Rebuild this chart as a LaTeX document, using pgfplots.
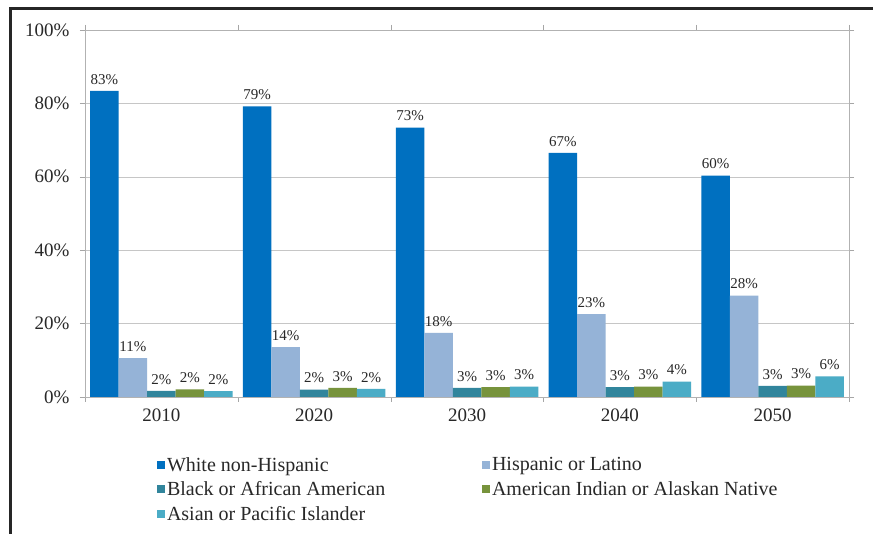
\documentclass[border=0pt]{standalone}
\usepackage{pgfplots}
\pgfplotsset{compat=1.18}
\usepackage{fontspec}
\setmainfont{Liberation Serif}
\definecolor{cWhite}{RGB}{0,112,192}
\definecolor{cHisp}{RGB}{149,179,215}
\definecolor{cBlack}{RGB}{49,133,156}
\definecolor{cAmInd}{RGB}{119,147,60}
\definecolor{cAsian}{RGB}{75,172,198}
\definecolor{txt}{RGB}{40,40,40}
\begin{document}
\begin{tikzpicture}
\useasboundingbox (0,0) rectangle (873pt,534pt);
\fill[white] (0,0) rectangle (873pt,534pt);
\draw[line width=3pt, black!85] (10pt,0) -- (10pt,525pt) -- (873pt,525pt);
\begin{axis}[
  at={(85pt,137pt)}, anchor=south west,
  scale only axis, width=764pt, height=367pt,
  ybar=0pt, bar width=28.5pt,
  xmin=-0.5, xmax=4.5, ymin=0, ymax=100,
  xtick={0,1,2,3,4}, xticklabels={2010,2020,2030,2040,2050},
  minor xtick={-0.5,0.5,1.5,2.5,3.5,4.5},
  ytick={0,20,40,60,80,100},
  yticklabel={\pgfmathprintnumber{\tick}\%},
  /pgf/number format/assume math mode=true,
  tick align=outside,
  major x tick style={draw=none},
  minor x tick style={draw=gray!70},
  y tick style={draw=gray!70},
  major tick length=5pt, minor tick length=5pt,
  ymajorgrids, grid style={draw=gray!45},
  axis line style={draw=gray!60},
  ticklabel style={font=\fontsize{19}{21}\selectfont, text=txt},
  yticklabel style={xshift=-7pt},
  xticklabel style={yshift=-3pt},
  nodes near coords={\pgfmathprintnumber[fixed,precision=0]{\pgfplotspointmeta}\%},
  every node near coord/.append style={font=\fontsize{15}{17}\selectfont, text=txt, yshift=3pt},
  legend columns=2,
  legend style={draw=none, fill=none, at={(0.094,-0.158)}, anchor=north west,
    font=\fontsize{20}{22}\selectfont, text=txt, cells={anchor=west},
    row sep=5pt, inner sep=0pt},
  legend image code/.code={\fill[#1,draw=none] (0pt,-4pt) rectangle (8pt,4pt);},
  clip=false,
]
\addplot[fill=cWhite, draw=none] coordinates {(0,83.4) (1,79.2) (2,73.4) (3,66.5) (4,60.3)};
\addplot[fill=cHisp, draw=none] coordinates {(0,10.6) (1,13.6) (2,17.5) (3,22.6) (4,27.6)};
\addplot[fill=cBlack, draw=none] coordinates {(0,1.7) (1,2.0) (2,2.5) (3,2.7) (4,3.0)};
\addplot[fill=cAmInd, draw=none] coordinates {(0,2.1) (1,2.5) (2,2.7) (3,2.8) (4,3.1)};
\addplot[fill=cAsian, draw=none] coordinates {(0,1.6) (1,2.2) (2,2.8) (3,4.2) (4,5.6)};
\legend{\makebox[313pt][l]{White non-Hispanic},Hispanic or Latino,\makebox[313pt][l]{Black or African American},American Indian or Alaskan Native,Asian or Pacific Islander}
\end{axis}
\end{tikzpicture}
\end{document}
